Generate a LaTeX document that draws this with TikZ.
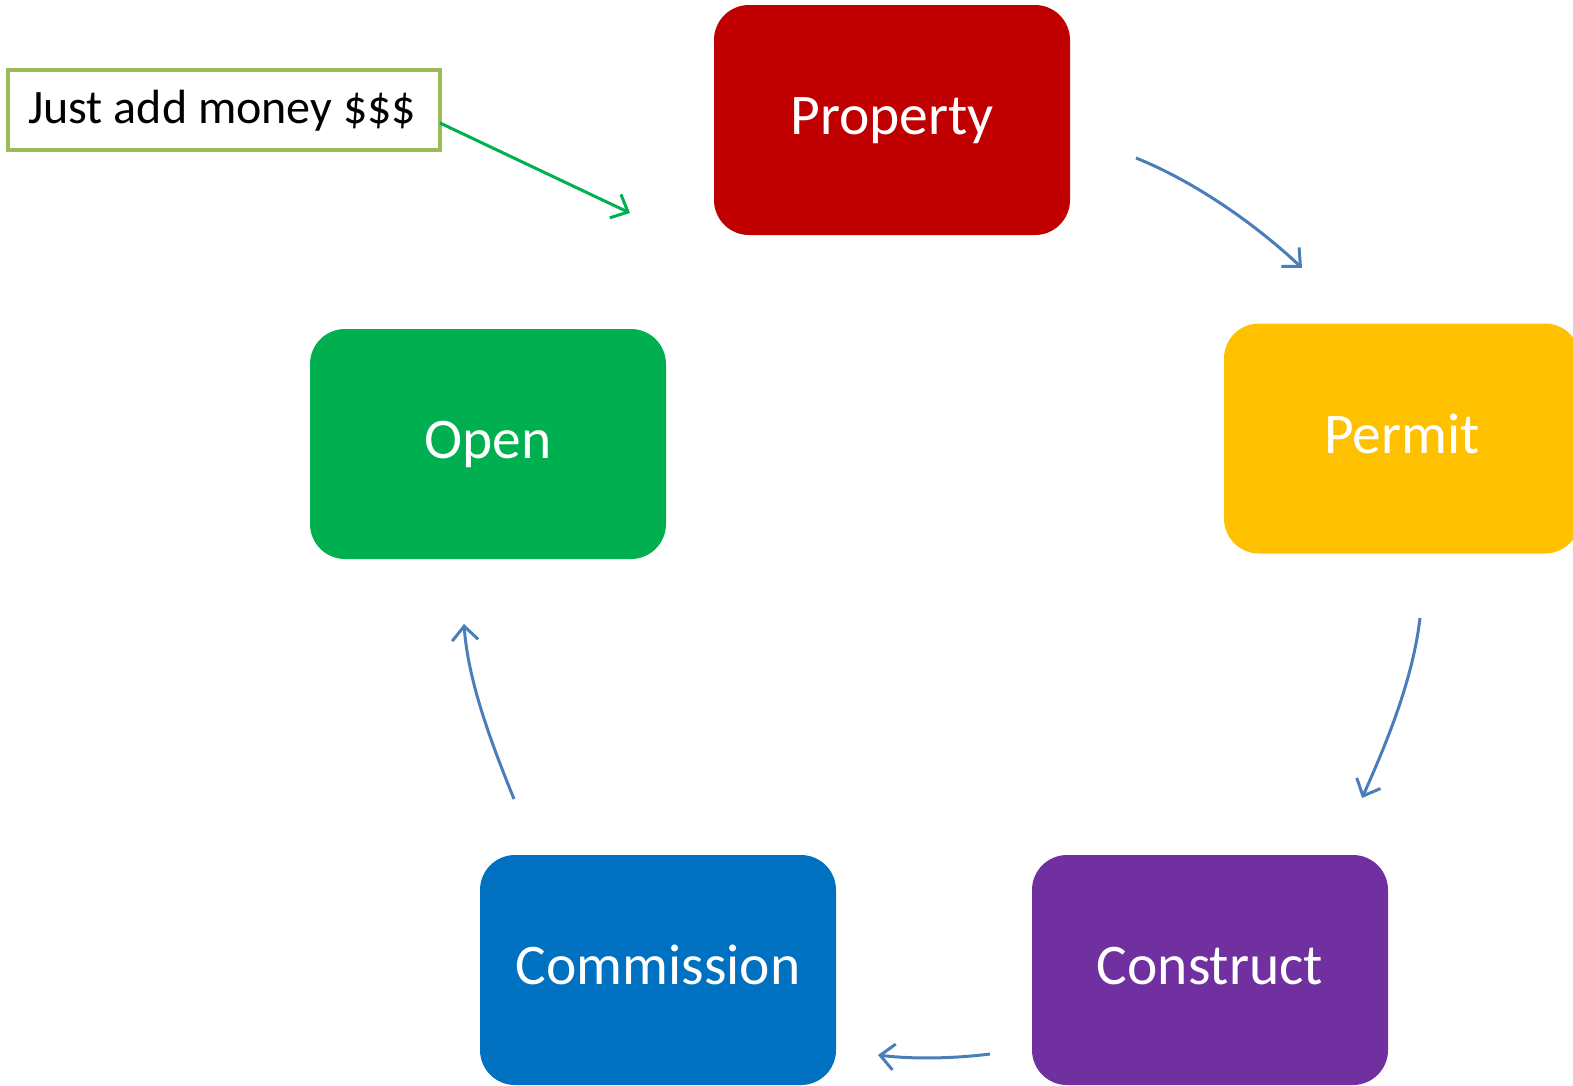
\documentclass[tikz,border=0pt]{standalone}
\usepackage{fontspec}
\setmainfont{Carlito}
\usetikzlibrary{arrows.meta}
\definecolor{cRed}{HTML}{C00000}
\definecolor{cYel}{HTML}{FFC000}
\definecolor{cGrn}{HTML}{00B050}
\definecolor{cBlu}{HTML}{0070C0}
\definecolor{cPur}{HTML}{7030A0}
\definecolor{cLine}{HTML}{4A7EBB}
\definecolor{cOlive}{HTML}{9BBB59}
\tikzset{
  stage/.style={rounded corners=35bp, minimum width=356bp, minimum height=230bp, inner sep=0pt,
    text height=40bp, text depth=11bp,
    text=white, font=\fontsize{57.5bp}{60bp}\selectfont},
  flow/.style={draw=cLine, line width=3bp, -{Straight Barb[length=14bp,width=26bp,line width=3bp]}},
  note/.style={draw=cOlive, line width=4bp, fill=white, minimum width=432bp, minimum height=80bp,
    inner sep=0pt},
  noteflow/.style={draw=cGrn, line width=3bp, -{Straight Barb[length=14bp,width=26bp,line width=3bp]}}
}
\begin{document}
\begin{tikzpicture}[x=1bp,y=-1bp]
\useasboundingbox (0,0) rectangle (1573,1085);
\node[stage, fill=cRed] (property) at (892,120) {Property};
\node[stage, fill=cYel] (permit) at (1402,438.5) {Permit};
\node[stage, fill=cGrn] (open) at (488,444) {Open};
\node[stage, fill=cBlu] (commission) at (658,970) {Commission};
\node[stage, fill=cPur] (construct) at (1210,970) {Construct};
\node[note] (money) at (224,110) {};
\node[anchor=base west, font=\fontsize{48bp}{50bp}\selectfont, inner sep=0pt] (moneytext) at (28,123) {Just add money \$\$\$};
\coordinate (p1s) at (1136,158); \coordinate (p1e) at (1302,268);
\coordinate (p2s) at (1420,618); \coordinate (p2e) at (1362,798);
\coordinate (p3s) at (990,1054); \coordinate (p3e) at (878,1055);
\coordinate (p4s) at (514,799); \coordinate (p4e) at (464,624);
\coordinate (m1s) at (440,123); \coordinate (m1e) at (630,213);
\draw[flow] (p1s) .. controls (1191,180) and (1252,221) .. (p1e);
\draw[flow] (p2s) .. controls (1413,678) and (1388,740) .. (p2e);
\draw[flow] (p3s) .. controls (950,1059) and (910,1059) .. (p3e);
\draw[flow] (p4s) .. controls (490,740) and (468,680) .. (p4e);
\draw[noteflow] (m1s) -- (m1e);
\end{tikzpicture}
\end{document}
